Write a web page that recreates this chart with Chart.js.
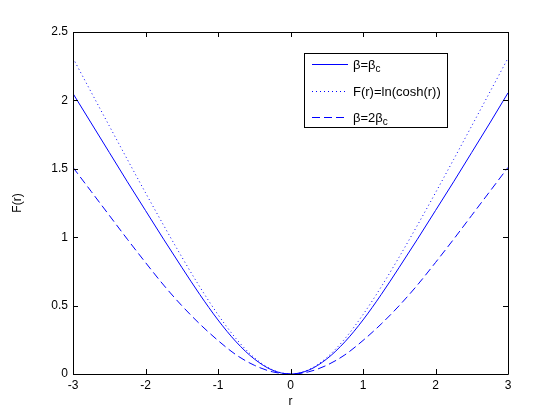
<!DOCTYPE html>
<html>
<head>
<meta charset="utf-8">
<script src="https://cdn.jsdelivr.net/npm/chart.js@4"></script>
<style>
  html, body { margin: 0; padding: 0; background: #fff; }
  #plot { display: block; }
</style>
</head>
<body>
<canvas id="plot" width="560" height="420"></canvas>
<script>
// chart values
const rValues = [-3, -2.75, -2.5, -2.25, -2, -1.75, -1.5, -1.25, -1, -0.75, -0.5, -0.25, 0,
                 0.25, 0.5, 0.75, 1, 1.25, 1.5, 1.75, 2, 2.25, 2.5, 2.75, 3];
const betaC = [2.05, 1.835, 1.62, 1.405, 1.195, 0.985, 0.78, 0.58, 0.395, 0.235, 0.11, 0.028, 0,
               0.028, 0.11, 0.235, 0.395, 0.58, 0.78, 0.985, 1.195, 1.405, 1.62, 1.835, 2.055];
const lnCosh = [2.309, 2.061, 1.814, 1.568, 1.325, 1.087, 0.856, 0.636, 0.434, 0.258, 0.120, 0.031, 0,
                0.031, 0.120, 0.258, 0.434, 0.636, 0.856, 1.087, 1.325, 1.568, 1.814, 2.061, 2.309];
const beta2C = [1.51, 1.335, 1.16, 0.985, 0.815, 0.65, 0.5, 0.365, 0.245, 0.14, 0.064, 0.016, 0,
                0.016, 0.064, 0.14, 0.245, 0.365, 0.5, 0.65, 0.815, 0.985, 1.16, 1.335, 1.51];
const xTicks = [-3, -2, -1, 0, 1, 2, 3];
const yTicks = [0, 0.5, 1, 1.5, 2, 2.5];

const FONT = "'Liberation Sans', Arial, sans-serif";
const BLUE = '#0000ff';

// legend entries: main text, subscript text
const legendItems = [
  { text: 'β=β', sub: 'c', dash: [] },
  { text: 'F(r)=ln(cosh(r))', sub: '', dash: [1, 3] },
  { text: 'β=2β', sub: 'c', dash: [8, 4] }
];

function toPoints(ys) {
  return rValues.map((r, i) => ({ x: r, y: ys[i] }));
}

// box round the axes, inward ticks on all four sides, and the legend
const boxPlugin = {
  id: 'boxPlugin',
  afterDatasetsDraw(chart) {
    const ctx = chart.ctx;
    const a = chart.chartArea;
    const xs = chart.scales.x, ys = chart.scales.y;
    ctx.save();
    ctx.strokeStyle = '#000';
    ctx.lineWidth = 1;
    ctx.setLineDash([]);
    ctx.beginPath();
    ctx.rect(Math.round(a.left) + 0.5, Math.round(a.top) + 0.5,
             Math.round(a.right - a.left), Math.round(a.bottom - a.top));
    ctx.stroke();

    const tl = 5;
    ctx.beginPath();
    xTicks.forEach(v => {
      const px = Math.round(xs.getPixelForValue(v)) + 0.5;
      ctx.moveTo(px, a.bottom); ctx.lineTo(px, a.bottom - tl);
      ctx.moveTo(px, a.top); ctx.lineTo(px, a.top + tl);
    });
    yTicks.forEach(v => {
      const py = Math.round(ys.getPixelForValue(v)) + 0.5;
      ctx.moveTo(a.left, py); ctx.lineTo(a.left + tl, py);
      ctx.moveTo(a.right, py); ctx.lineTo(a.right - tl, py);
    });
    ctx.stroke();

    // legend
    const lx = 304.5, ly = 53.5, lw = 143, lh = 74;
    ctx.fillStyle = '#fff';
    ctx.fillRect(lx, ly, lw, lh);
    ctx.strokeRect(lx, ly, lw, lh);
    const rows = [64.5, 91.5, 117.5];
    legendItems.forEach((it, i) => {
      ctx.strokeStyle = BLUE;
      ctx.setLineDash(it.dash);
      ctx.beginPath();
      ctx.moveTo(312, rows[i]);
      ctx.lineTo(348, rows[i]);
      ctx.stroke();
      ctx.setLineDash([]);
      ctx.fillStyle = '#000';
      ctx.textBaseline = 'middle';
      ctx.textAlign = 'left';
      ctx.font = '13px ' + FONT;
      ctx.fillText(it.text, 353, rows[i] + 1);
      if (it.sub) {
        const w = ctx.measureText(it.text).width;
        ctx.font = '10px ' + FONT;
        ctx.fillText(it.sub, 353 + w, rows[i] + 5);
      }
    });
    ctx.restore();
  }
};

new Chart(document.getElementById('plot'), {
  type: 'line',
  data: {
    datasets: [
      { label: 'β=βc', data: toPoints(betaC), borderColor: BLUE, borderWidth: 1 },
      { label: 'F(r)=ln(cosh(r))', data: toPoints(lnCosh), borderColor: BLUE, borderWidth: 1, borderDash: [1, 3] },
      { label: 'β=2βc', data: toPoints(beta2C), borderColor: BLUE, borderWidth: 1, borderDash: [8, 4] }
    ]
  },
  options: {
    responsive: false,
    animation: false,
    events: [],
    elements: {
      point: { radius: 0 },
      line: { cubicInterpolationMode: 'monotone', fill: false }
    },
    layout: { padding: { left: 0, top: 32, right: 52, bottom: 0 } },
    plugins: { legend: { display: false }, tooltip: { enabled: false } },
    scales: {
      x: {
        type: 'linear',
        min: -3, max: 3,
        afterFit(s) { s.height = 46; },
        afterBuildTicks(s) { s.ticks = xTicks.map(v => ({ value: v })); },
        grid: { display: false, drawTicks: false },
        border: { display: false },
        ticks: { color: '#000', padding: 4, maxRotation: 0, callback: v => String(v), font: { family: FONT, size: 12 } },
        title: { display: true, text: 'r', color: '#000', padding: { top: 0, bottom: 11 }, font: { family: FONT, size: 12 } }
      },
      y: {
        type: 'linear',
        min: 0, max: 2.5,
        afterFit(s) { s.width = 73; },
        afterBuildTicks(s) { s.ticks = yTicks.map(v => ({ value: v })); },
        grid: { display: false, drawTicks: false },
        border: { display: false },
        ticks: { color: '#000', padding: 5, callback: v => String(v), font: { family: FONT, size: 12 } },
        title: { display: true, text: 'F(r)', color: '#000', padding: { top: 10, bottom: 0 }, font: { family: FONT, size: 12 } }
      }
    }
  },
  plugins: [boxPlugin]
});
</script>
</body>
</html>
